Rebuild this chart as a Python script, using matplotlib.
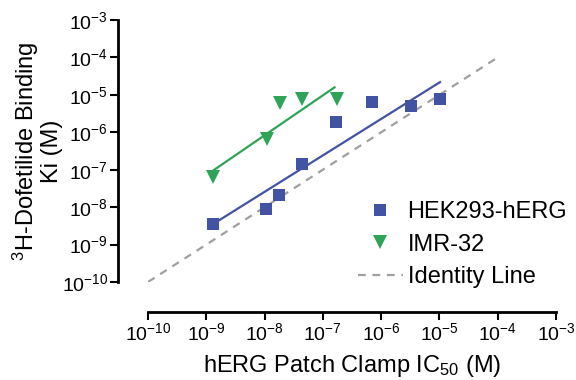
import numpy as np
import matplotlib
matplotlib.use("Agg")
import matplotlib.pyplot as plt

plt.rcParams['font.family'] = ['Liberation Sans', 'DejaVu Sans']
plt.rcParams['mathtext.fontset'] = 'custom'
plt.rcParams['mathtext.rm'] = 'Liberation Sans'
plt.rcParams['mathtext.it'] = 'Liberation Sans:italic'
plt.rcParams['mathtext.bf'] = 'Liberation Sans:bold'

# log10 values
hek_x = [-8.89, -7.98, -7.75, -7.35, -6.775, -6.16, -5.48, -4.99]
hek_y = [-8.45, -8.06, -7.675, -6.855, -5.725, -5.20, -5.30, -5.11]
imr_x = [-8.88, -7.96, -7.735, -7.35, -6.76]
imr_y = [-7.20, -6.19, -5.23, -5.11, -5.11]

# fitted lines (end points, log10)
hek_fit_x = [-8.82, -4.99]
hek_fit_y = [-8.39, -4.66]
imr_fit_x = [-8.89, -6.80]
imr_fit_y = [-7.03, -4.80]
ident = [-10, -4]

decades = list(range(-10, -2))

blue = '#4353a4'
green = '#2fa458'
grey = '#a0a0a0'

fig = plt.figure(figsize=(5.76, 3.80), dpi=100)
ax = fig.add_axes([148/576, 1-282/380, (556-148)/576, (282-20)/380])

p = lambda v: np.power(10.0, v)

ax.plot(p(ident), p(ident), '--', color=grey, lw=1.6, dashes=(3.5, 3.0),
        label='Identity Line', zorder=1)
ax.plot(p(hek_fit_x), p(hek_fit_y), '-', color=blue, lw=1.6, zorder=2)
ax.plot(p(imr_fit_x), p(imr_fit_y), '-', color=green, lw=1.6, zorder=2)
ax.plot(p(hek_x), p(hek_y), 's', color=blue, ms=8, mew=0, ls='none',
        label='HEK293-hERG', zorder=3)
ax.plot(p(imr_x), p(imr_y), 'v', color=green, ms=10, mew=0, ls='none',
        label='IMR-32', zorder=3)

ax.set_xscale('log')
ax.set_yscale('log')
ax.set_xlim(1e-10, 1e-3)
ax.set_ylim(1e-10, 1e-3)

ticks = [10.0 ** d for d in decades]
labels = ['$10^{%d}$' % d for d in decades]
ax.set_xticks(ticks)
ax.set_xticklabels(labels)
ax.set_yticks(ticks)
ax.set_yticklabels(labels)
ax.minorticks_off()

for s in ['top', 'right']:
    ax.spines[s].set_visible(False)
for s in ['left', 'bottom']:
    ax.spines[s].set_linewidth(2)
    ax.spines[s].set_position(('outward', 21.6))
ax.tick_params(axis='both', which='major', length=5.5, width=1.5,
               labelsize=14, pad=1.5, direction='out')

ax.set_xlabel('hERG Patch Clamp IC$_{50}$ (M)', fontsize=17, labelpad=7)
ax.set_ylabel('$^{3}$H-Dofetilide Binding\nKi (M)', fontsize=17,
              linespacing=1.0)
ax.yaxis.set_label_coords(-0.208, 0.5)

h, l = ax.get_legend_handles_labels()
order = [1, 2, 0]
fig.legend([h[i] for i in order], [l[i] for i in order],
           loc='upper left', bbox_to_anchor=(358/576, 1-201/380),
           frameon=False, fontsize=17, borderpad=0, borderaxespad=0,
           handlelength=1.9, handletextpad=0.2, labelspacing=0.45)

fig.savefig('out.png', dpi=100)
